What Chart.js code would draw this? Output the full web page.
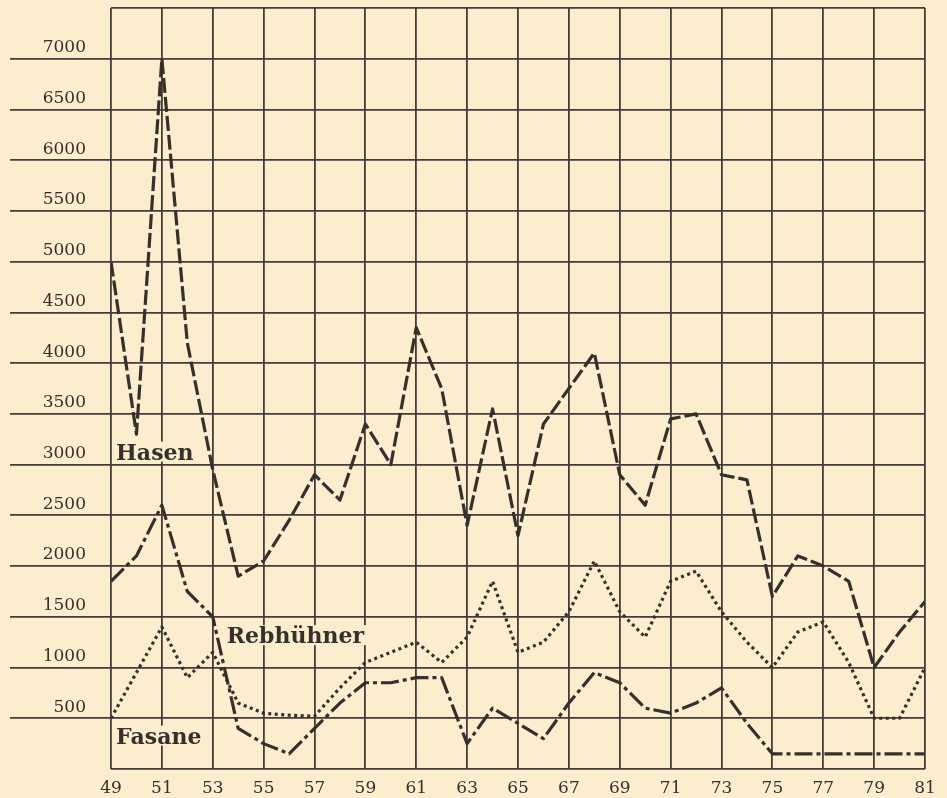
<!DOCTYPE html>
<html>
<head>
<meta charset="utf-8">
<script src="https://cdn.jsdelivr.net/npm/chart.js@4"></script>
<style>
  html, body { margin: 0; padding: 0; background: #fbedcd; }
  #wrap { width: 947px; height: 798px; }
</style>
</head>
<body>
<div id="wrap"><canvas id="jagd"></canvas></div>
<script>
// Jahre 1949 - 1981
const jahre = [49, 50, 51, 52, 53, 54, 55, 56, 57, 58, 59, 60, 61, 62, 63, 64, 65,
               66, 67, 68, 69, 70, 71, 72, 73, 74, 75, 76, 77, 78, 79, 80, 81];

const hasen = [5000, 3300, 7000, 4200, 2950, 1900, 2050, 2450, 2900, 2650, 3400, 3000, 4350, 3750, 2400, 3550, 2300,
               3400, 3750, 4100, 2900, 2600, 3450, 3500, 2900, 2850, 1700, 2100, 2000, 1850, 1000, 1350, 1650];

const rebhuehner = [500, 950, 1400, 900, 1150, 650, 550, 530, 520, 800, 1050, 1150, 1250, 1050, 1300, 1850, 1150,
                    1250, 1550, 2050, 1550, 1300, 1850, 1950, 1550, 1250, 1000, 1350, 1450, 1050, 500, 500, 1000];

const fasane = [1850, 2100, 2600, 1750, 1500, 400, 250, 150, 400, 650, 850, 850, 900, 900, 250, 600, 450,
                300, 650, 950, 850, 600, 550, 650, 800, 450, 150, 150, 150, 150, 150, 150, 150];

// Beschriftungen an den Kurven
const kurvenNamen = ['Hasen', 'Rebhühner', 'Fasane'];
const namenPos = [[49.2, 3050], [53.55, 1240], [49.2, 250]];

const TINTE = '#35302b';
const PAPIER = '#fbedcd';

function punkte(werte) {
    return jahre.map((j, i) => ({ x: j, y: werte[i] }));
}

const papierPlugin = {
    id: 'papier',
    beforeDraw(chart) {
        const c = chart.ctx;
        c.save();
        c.fillStyle = PAPIER;
        c.fillRect(0, 0, chart.width, chart.height);
        c.restore();
    },
    beforeDatasetsDraw(chart) {
        const c = chart.ctx;
        const xs = chart.scales.x, ys = chart.scales.y;
        c.save();
        c.font = 'bold 22px "DejaVu Serif"';
        c.textBaseline = 'alphabetic';
        kurvenNamen.forEach((name, i) => {
            const px = xs.getPixelForValue(namenPos[i][0]);
            const py = ys.getPixelForValue(namenPos[i][1]);
            const w = c.measureText(name).width;
            c.fillStyle = PAPIER;
            c.fillRect(px - 2, py - 18, w + 4, 20);
            c.fillStyle = TINTE;
            c.fillText(name, px, py);
        });
        c.restore();
    }
};

new Chart(document.getElementById('jagd'), {
    type: 'line',
    data: {
        datasets: [
            { label: kurvenNamen[0], data: punkte(hasen), borderDash: [15, 4] },
            { label: kurvenNamen[1], data: punkte(rebhuehner), borderDash: [3, 3.5] },
            { label: kurvenNamen[2], data: punkte(fasane), borderDash: [18, 4, 4, 4] }
        ]
    },
    options: {
        responsive: true,
        maintainAspectRatio: false,
        animation: false,
        layout: { padding: { left: 10, right: 22, top: 8, bottom: 0 } },
        elements: {
            line: { borderColor: TINTE, borderWidth: 3.2, tension: 0, borderJoinStyle: 'round', fill: false },
            point: { radius: 0 }
        },
        plugins: { legend: { display: false }, tooltip: { enabled: false } },
        scales: {
            x: {
                type: 'linear',
                min: 49,
                max: 81,
                afterFit: s => { s.height = 29; },
                border: { display: false },
                grid: { color: '#433d37', lineWidth: 1.8, drawTicks: false },
                ticks: {
                    stepSize: 2,
                    padding: 9,
                    color: TINTE,
                    font: { family: 'DejaVu Serif', size: 17 }
                }
            },
            y: {
                min: 0,
                max: 7500,
                afterFit: s => { s.width = 101; },
                border: { display: false },
                grid: {
                    color: '#433d37',
                    lineWidth: 1.8,
                    tickLength: 101,
                    tickColor: ctx => (ctx.tick && (ctx.tick.value === 0 || ctx.tick.value === 7500)) ? 'rgba(0,0,0,0)' : '#433d37'
                },
                ticks: {
                    stepSize: 500,
                    padding: -76,
                    labelOffset: -11,
                    color: TINTE,
                    font: { family: 'DejaVu Serif', size: 17 },
                    callback: v => (v === 0 || v === 7500) ? '' : v
                }
            }
        }
    },
    plugins: [papierPlugin]
});
</script>
</body>
</html>
